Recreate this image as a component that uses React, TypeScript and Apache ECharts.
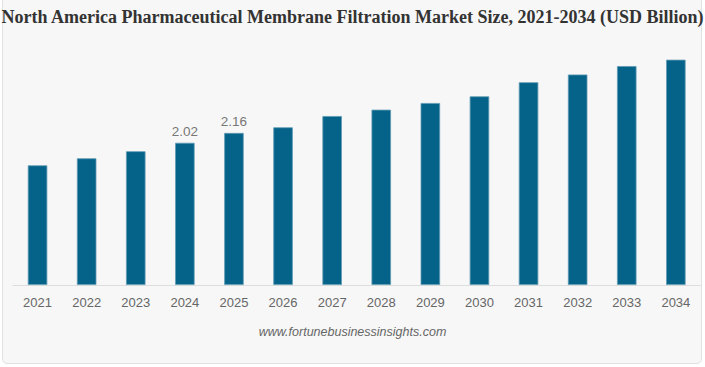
import React, { useEffect, useRef } from "react";
import * as echarts from "echarts";

const title = "North America Pharmaceutical Membrane Filtration Market Size, 2021-2034 (USD Billion)";
const years = ["2021", "2022", "2023", "2024", "2025", "2026", "2027", "2028", "2029", "2030", "2031", "2032", "2033", "2034"];
const values = [1.70, 1.80, 1.90, 2.02, 2.16, 2.24, 2.40, 2.49, 2.585, 2.68, 2.88, 2.99, 3.11, 3.20];
const labelledYears = ["2024", "2025"];
const source = "www.fortunebusinessinsights.com";

export default function App() {
  const ref = useRef<HTMLDivElement>(null);
  useEffect(() => {
    if (!ref.current) return;
    const chart = echarts.init(ref.current, null, { renderer: "svg" });
    chart.setOption({
      animation: false,
      backgroundColor: "transparent",
      title: {
        text: title,
        left: "center",
        top: 3,
        textStyle: {
          fontFamily: "Liberation Serif",
          fontWeight: "bold",
          fontSize: 18,
          color: "#333333",
        },
      },
      graphic: [
        {
          type: "text",
          left: "center",
          top: 325,
          style: {
            text: source,
            font: "italic 12.5px 'Liberation Sans'",
            fill: "#666666",
          },
        },
      ],
      grid: { left: 13, right: 4.6, top: 38.6, bottom: 82 },
      xAxis: {
        type: "category",
        data: years,
        axisLine: { lineStyle: { color: "#dddddd", width: 1 } },
        axisTick: { show: false },
        axisLabel: {
          color: "#666666",
          fontSize: 13,
          fontFamily: "Liberation Sans",
          margin: 11,
        },
      },
      yAxis: {
        type: "value",
        min: 0,
        max: 3.5,
        show: false,
        splitLine: { show: false },
      },
      series: [
        {
          type: "bar",
          barWidth: 19.5,
          data: years.map((y, i) => ({
            value: values[i],
            label: {
              show: labelledYears.includes(y),
              position: "top",
              distance: 4,
              formatter: (p: any) => Number(p.value).toFixed(2),
              color: "#777777",
              fontSize: 13.5,
              fontFamily: "Liberation Sans",
            },
          })),
          itemStyle: {
            color: "#05638a",
            borderColor: "#5f9ab4",
            borderWidth: 0.8,
          },
        },
      ],
    });
    return () => chart.dispose();
  }, []);
  return (
    <div
      style={{
        position: "fixed",
        left: 0,
        top: 0,
        width: 705,
        height: 367,
        background: "#ffffff",
      }}
    >
      <div
        style={{
          position: "absolute",
          left: 2,
          top: -6,
          width: 700,
          height: 370,
          background: "#f7f7f7",
          border: "1px solid #e2e2e2",
          borderRadius: 5,
          boxSizing: "border-box",
        }}
      />
      <div ref={ref} style={{ position: "absolute", left: 0, top: 0, width: 705, height: 367 }} />
    </div>
  );
}
